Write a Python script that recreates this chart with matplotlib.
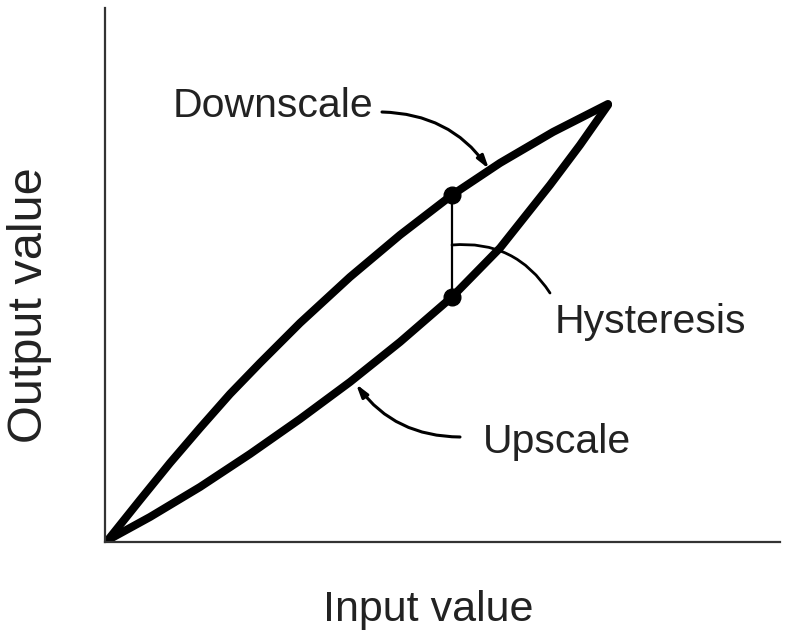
import matplotlib
matplotlib.use("Agg")
import matplotlib.pyplot as plt

# --- Curve data (axis units, origin at the corner of the axes) ---
# Downscale branch (upper curve)
down_input = [3, 35, 65, 95, 125, 155, 195, 245, 295, 347, 395, 448, 503]
down_output = [2, 42, 79, 114, 148, 179, 219, 265, 307, 347, 379, 410, 438]

# Upscale branch (lower curve)
up_input = [3, 45, 95, 145, 195, 245, 295, 347, 395, 445, 475, 503]
up_output = [2, 25, 55, 88, 123, 160, 200, 245, 294, 357, 397, 437]

# Where the hysteresis gap is marked
hyst_input = 347
hyst_down = 347
hyst_up = 245

TEXT_COLOR = "#222222"
plt.rcParams["font.family"] = ["Liberation Sans", "DejaVu Sans"]

fig = plt.figure(figsize=(7.94, 6.33), dpi=100)
ax = fig.add_axes([105 / 794, 91 / 633, 675 / 794, 534 / 633])
ax.set_xlim(0, 675)
ax.set_ylim(0, 534)

# the two branches of the loop
ax.plot(down_input, down_output, color="black", lw=5.8,
        solid_joinstyle="round", solid_capstyle="round")
ax.plot(up_input, up_output, color="black", lw=5.8,
        solid_joinstyle="round", solid_capstyle="round")

# gap between branches at one input value
ax.plot([hyst_input, hyst_input], [hyst_up, hyst_down], color="black", lw=1.6)
ax.plot([hyst_input, hyst_input], [hyst_up, hyst_down], "o", color="black",
        markersize=12)

# --- Callouts ---
ax.text(68, 425, "Downscale", fontsize=29.5, color=TEXT_COLOR,
        ha="left", va="baseline")
ax.annotate("", xy=(384, 373), xytext=(277, 430),
            arrowprops=dict(arrowstyle="-|>,head_length=0.75,head_width=0.22",
                            color="black", lw=2.2,
                            connectionstyle="arc3,rad=-0.25",
                            shrinkA=0, shrinkB=0))

ax.text(450, 209, "Hysteresis", fontsize=29.5, color=TEXT_COLOR,
        ha="left", va="baseline")
ax.annotate("", xy=(hyst_input, 297), xytext=(445, 249),
            arrowprops=dict(arrowstyle="-", color="black", lw=2.0,
                            connectionstyle="arc3,rad=0.3",
                            shrinkA=0, shrinkB=0))

ax.text(378, 89, "Upscale", fontsize=29.5, color=TEXT_COLOR,
        ha="left", va="baseline")
ax.annotate("", xy=(251, 158), xytext=(355, 105),
            arrowprops=dict(arrowstyle="-|>,head_length=0.75,head_width=0.22",
                            color="black", lw=2.2,
                            connectionstyle="arc3,rad=-0.25",
                            shrinkA=0, shrinkB=0))

# --- Axes styling ---
ax.set_xlabel("Input value", fontsize=31, color=TEXT_COLOR)
ax.set_ylabel("Output value", fontsize=35, color=TEXT_COLOR)
ax.xaxis.set_label_coords(0.479, -0.09)
ax.yaxis.set_label_coords(-0.0785, 0.444)

for side in ["top", "right"]:
    ax.spines[side].set_visible(False)
for side in ["left", "bottom"]:
    ax.spines[side].set_color("#333333")
    ax.spines[side].set_linewidth(1.6)
ax.set_xticks([])
ax.set_yticks([])

fig.savefig("out.png", dpi=100)
